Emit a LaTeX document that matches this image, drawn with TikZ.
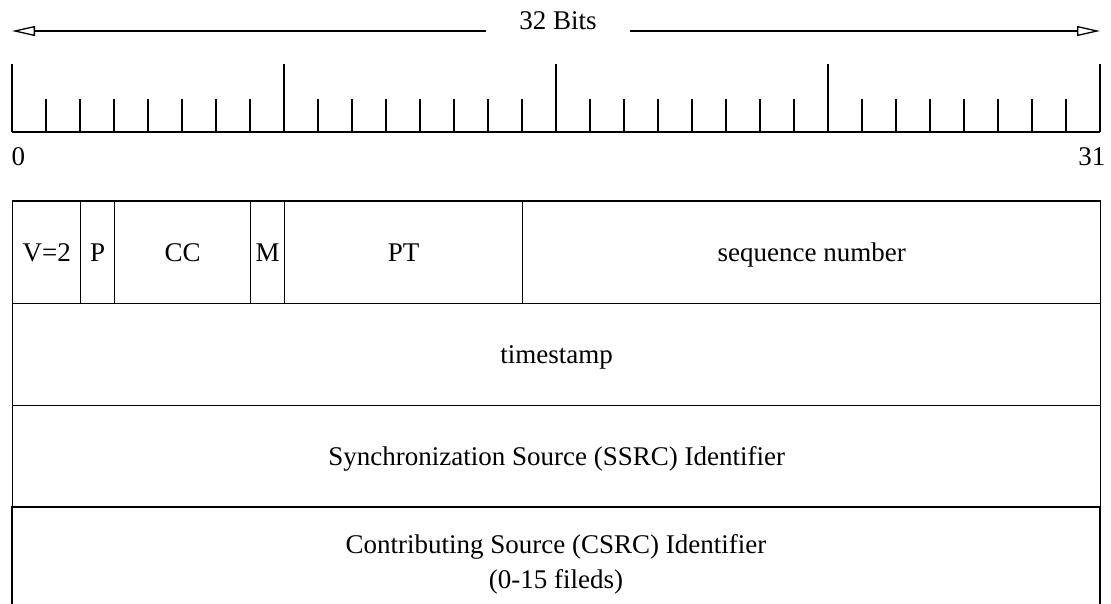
\documentclass[tikz,border=0pt]{standalone}
\usepackage{fontspec}
\setmainfont{Liberation Serif}
\usetikzlibrary{arrows.meta}

\tikzset{
  field/.style={draw, anchor=north west, inner sep=0pt, minimum height=102.2pt,
    text height=18pt, text depth=0pt},
  span/.style={-{Triangle[open, length=23pt, width=10pt]}}
}

\begin{document}
\begin{tikzpicture}[x=1pt, y=-1pt, line width=1.3pt,
    every node/.style={font=\fontsize{27}{35}\selectfont}]
  \useasboundingbox (0,0) rectangle (1111,604);

  % Word width
  \node[anchor=base, inner xsep=33pt, inner ysep=0pt] (bits) at (558,30) {32 Bits};
  \coordinate (bitsL) at (12,31);
  \coordinate (bitsR) at (1100,31);
  \draw[span] (bits.west |- bitsL) -- (bitsL);
  \draw[span] (bits.east |- bitsR) -- (bitsR);

  % Bit ruler
  \draw (12,132) -- (1100,132);
  \foreach \b in {1,...,31} {
    \draw (12+34*\b,132) -- (12+34*\b,99);
  }
  \foreach \b in {0,8,16,24,32} {
    \draw (12+34*\b,132) -- (12+34*\b,64);
  }
  \node[anchor=base west, inner sep=0pt] (lo) at (11,166) {0};
  \node[anchor=base east, inner sep=0pt] (hi) at (1106,166) {31};

  % Header fields
  \foreach \name/\x/\w/\txt in {ver/12/68/V=2, pad/80/34/P, cc/114/136/CC,
      mk/250/34/M, pt/284/238/PT, seq/522/578/sequence number} {
    \node[field, minimum width=\w pt] (\name) at (\x,200.3) {\txt};
  }
  \node[field, minimum width=1088pt] (ts) at (12,302.5) {timestamp};
  \node[field, minimum width=1088pt] (ssrc) at (12,404.7)
    {Synchronization Source (SSRC) Identifier};

  % Open last row
  \draw (12,604) -- (12,506.9) -- (1100,506.9) -- (1100,604);
  \node[align=center] (csrc) at (556,564)
    {Contributing Source (CSRC) Identifier\\(0-15 fileds)};
\end{tikzpicture}
\end{document}
